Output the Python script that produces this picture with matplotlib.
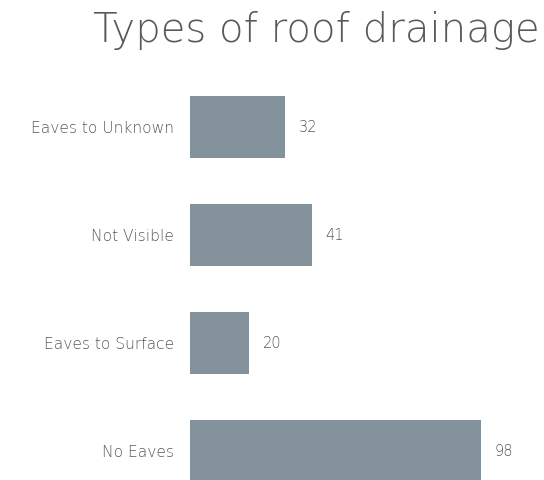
import matplotlib.pyplot as plt

categories = ["Eaves to Unknown", "Not Visible", "Eaves to Surface", "No Eaves"]
values = [32, 41, 20, 98]

plt.rcParams['font.family'] = ['DejaVu Sans']

fig = plt.figure(figsize=(5.44, 4.80), dpi=100)
# axes in figure fraction: left at x=190px, bottom at y=480px, top at 70px
ax = fig.add_axes([190 / 544, 0, 1 - 190 / 544, (480 - 70) / 480])

pos = list(range(len(categories)))
ax.barh(pos, values, height=0.574, color="#84939b")
ax.set_xlim(0, (544 - 190) / 2.97)
ax.set_ylim(3.268, -0.528)

for p, v in zip(pos, values):
    ax.text(v + 4.6, p, str(v), va="center", ha="left", fontsize=10.5,
            color="#595959", fontweight="light")

ax.set_yticks(pos)
ax.set_yticklabels(categories, fontsize=11.2, color="#595959", fontweight="light")
ax.tick_params(axis="y", length=0, pad=11.5)
ax.set_xticks([])
for s in ax.spines.values():
    s.set_visible(False)

fig.text(540 / 544, 1 - 42 / 480, "Types of roof drainage", ha="right", va="baseline",
         fontsize=29, color="#595959", fontweight="light")

fig.savefig("out.png", dpi=100)
